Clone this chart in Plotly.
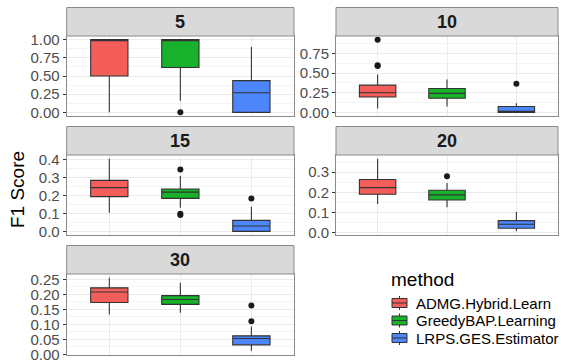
import plotly.graph_objects as go

methods = ["ADMG.Hybrid.Learn", "GreedyBAP.Learning", "LRPS.GES.Estimator"]
colors = ["#F35E5A", "#17B12B", "#4C86FA"]
panels = ["5", "10", "15", "20", "30"]

# statistics per panel (rows) and method (columns)
lower = [
    [0.0, 0.158, 0.0],
    [0.05, 0.075, 0.0],
    [0.104, 0.131, 0.0],
    [0.143, 0.127, 0.008],
    [0.133, 0.139, 0.012],
]
q1 = [
    [0.50, 0.617, 0.0],
    [0.196, 0.179, 0.0],
    [0.193, 0.183, 0.0],
    [0.191, 0.163, 0.023],
    [0.173, 0.167, 0.032],
]
median = [
    [1.0, 1.0, 0.27],
    [0.25, 0.242, 0.008],
    [0.243, 0.218, 0.03],
    [0.224, 0.188, 0.043],
    [0.208, 0.183, 0.053],
]
q3 = [
    [1.0, 1.0, 0.437],
    [0.346, 0.304, 0.075],
    [0.283, 0.235, 0.061],
    [0.264, 0.211, 0.061],
    [0.222, 0.196, 0.062],
]
upper = [
    [1.0, 1.0, 0.90],
    [0.48, 0.417, 0.117],
    [0.404, 0.307, 0.137],
    [0.367, 0.247, 0.104],
    [0.256, 0.239, 0.093],
]
outliers = [
    [[], [0.0], []],
    [[0.59, 0.60, 0.925], [], [0.363]],
    [[], [0.344, 0.098, 0.091], [0.183]],
    [[], [0.28], []],
    [[], [], [0.163, 0.111]],
]
tick_step = [0.25, 0.25, 0.1, 0.1, 0.05]
tick_fmt = [".2f", ".2f", ".1f", ".1f", ".2f"]

W, H = 561, 364
# panel pixel boxes -- layout only
cols = [(66.7, 294.0), (336.0, 558.0)]
rows = [(36.0, 116.0), (155.0, 235.0), (274.0, 354.5)]
strip_h = 28.5
pos = [(0, 0), (0, 1), (1, 0), (1, 1), (2, 0)]
BORDER = "#8A8A8A"
FONT = "Liberation Sans, Arial, sans-serif"

fig = go.Figure()
shapes = []
annotations = []

for p, name in enumerate(panels):
    r, c = pos[p]
    ax = "" if p == 0 else str(p + 1)
    xa, ya = "x" + ax, "y" + ax
    for m, meth in enumerate(methods):
        fig.add_trace(go.Box(
            x=[meth], q1=[q1[p][m]], median=[median[p][m]], q3=[q3[p][m]],
            lowerfence=[lower[p][m]], upperfence=[upper[p][m]],
            name=meth, showlegend=False,
            fillcolor=colors[m], line=dict(color="#333333", width=1.1),
            whiskerwidth=0, boxpoints=False, hoverinfo="skip",
            xaxis=xa, yaxis=ya,
        ))
        if outliers[p][m]:
            fig.add_trace(go.Scatter(
                x=[meth] * len(outliers[p][m]), y=outliers[p][m], mode="markers",
                marker=dict(color="#1A1A1A", size=6), showlegend=False,
                hoverinfo="skip", xaxis=xa, yaxis=ya,
            ))
    vals = [v for arr in (lower[p], upper[p]) for v in arr]
    vals += [v for arr in outliers[p] for v in arr]
    lo, hi = min(vals), max(vals)
    pad = 0.05 * (hi - lo)
    x0, x1 = cols[c]
    y0, y1 = rows[r]
    fig.layout["xaxis" + ax] = dict(
        domain=[x0 / W, x1 / W], anchor=ya, type="category", categoryorder="array",
        categoryarray=methods, range=[-0.6, 2.6], showticklabels=False,
        ticks="", showgrid=True, gridcolor="#EBEBEB", gridwidth=1,
        showline=True, mirror=True, linecolor=BORDER, linewidth=1,
        zeroline=False, fixedrange=True, automargin=False,
    )
    fig.layout["yaxis" + ax] = dict(
        domain=[1 - y1 / H, 1 - y0 / H], anchor=xa, range=[lo - pad, hi + pad],
        tick0=0, dtick=tick_step[p], tickformat=tick_fmt[p],
        ticks="outside", ticklen=3, tickcolor="#333333", tickwidth=1,
        tickfont=dict(size=15, color="#4D4D4D", family=FONT),
        showgrid=True, gridcolor="#EBEBEB", gridwidth=1,
        minor=dict(dtick=tick_step[p] / 2, tick0=0, showgrid=True,
                   gridcolor="#F4F4F4", gridwidth=0.6),
        showline=True, mirror=True, linecolor=BORDER, linewidth=1,
        zeroline=False, fixedrange=True, automargin=False,
    )
    sy0 = y0 - strip_h
    shapes.append(dict(type="rect", xref="paper", yref="paper",
                       x0=x0 / W, x1=x1 / W, y0=1 - y0 / H, y1=1 - sy0 / H,
                       fillcolor="#D9D9D9", line=dict(color=BORDER, width=1),
                       layer="above"))
    annotations.append(dict(text=name, xref="paper", yref="paper",
                            x=(x0 + x1) / 2 / W, y=1 - (sy0 + y0) / 2 / H,
                            showarrow=False, xanchor="center", yanchor="middle",
                            font=dict(size=18, color="#1A1A1A", family=FONT, weight="bold")))

annotations.append(dict(text="F1 Score", xref="paper", yref="paper",
                        x=17 / W, y=1 - 190 / H, textangle=-90, showarrow=False,
                        xanchor="center", yanchor="middle",
                        font=dict(size=19, color="#000000", family=FONT)))

# legend (drawn as key glyphs + labels)
annotations.append(dict(text="method", xref="paper", yref="paper",
                        x=389 / W, y=1 - 279 / H, showarrow=False,
                        xanchor="left", yanchor="middle",
                        font=dict(size=19, color="#000000", family=FONT)))
for m, meth in enumerate(methods):
    cy = 303 + 17.5 * m
    kx0, kx1 = 392, 407
    kxm = (kx0 + kx1) / 2
    shapes.append(dict(type="line", xref="paper", yref="paper",
                       x0=kxm / W, x1=kxm / W, y0=1 - (cy - 7) / H, y1=1 - (cy + 7) / H,
                       line=dict(color="#333333", width=1)))
    shapes.append(dict(type="rect", xref="paper", yref="paper",
                       x0=kx0 / W, x1=kx1 / W, y0=1 - (cy - 4.5) / H, y1=1 - (cy + 4.5) / H,
                       fillcolor=colors[m], line=dict(color="#333333", width=1)))
    shapes.append(dict(type="line", xref="paper", yref="paper",
                       x0=kx0 / W, x1=kx1 / W, y0=1 - cy / H, y1=1 - cy / H,
                       line=dict(color="#333333", width=1)))
    annotations.append(dict(text=meth, xref="paper", yref="paper",
                            x=414 / W, y=1 - cy / H, showarrow=False,
                            xanchor="left", yanchor="middle",
                            font=dict(size=15, color="#000000", family=FONT)))

fig.update_layout(
    width=W, height=H, margin=dict(l=0, r=0, t=0, b=0, autoexpand=False),
    paper_bgcolor="white", plot_bgcolor="white",
    boxmode="overlay", boxgap=0.25, showlegend=False,
    shapes=shapes, annotations=annotations,
    font=dict(family=FONT),
)

fig.write_html("out.html", config={"displayModeBar": False},
               post_script="document.body.style.margin='0px';document.body.style.overflow='hidden';")
